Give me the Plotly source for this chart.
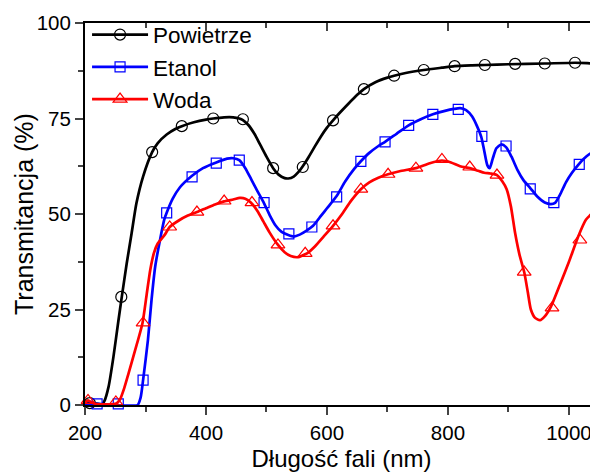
import plotly.graph_objects as go

# ---- data ----
air_x = [200, 215, 228, 232, 239, 247, 255, 261, 269, 277, 285, 296, 311, 320, 335, 350, 360, 380, 400, 412,
         430, 445, 455, 461, 470, 480, 490, 500, 511, 520, 530, 536, 545, 553, 560, 570, 580, 590, 600, 610,
         620, 635, 650, 661, 680, 700, 711, 730, 760, 790, 811, 840, 861, 900, 960, 1010, 1030, 1048]
air_y = [0.8, 0.5, 0.2, 1.0, 4.8, 12.6, 21.8, 28.5, 37.1, 44.9, 52.8, 59.8, 66.2, 68.5, 70.8, 72.3, 73.0, 74.0, 74.7, 75.0,
         75.3, 75.3, 75.0, 74.6, 73.3, 71.0, 68.0, 65.0, 62.0, 60.3, 59.4, 59.3, 59.8, 61.0, 62.5, 65.0, 67.7, 70.3, 72.6, 74.5,
         76.3, 78.8, 81.2, 82.7, 84.5, 85.7, 86.2, 86.9, 87.7, 88.3, 88.7, 88.9, 89.0, 89.2, 89.4, 89.6, 89.5, 89.3]
air_mx = [208, 260, 311, 360, 412, 461, 511, 560, 610, 661, 711, 760, 811, 861, 911, 960, 1010]
air_my = [0.5, 28.3, 66.2, 73.0, 75.0, 74.8, 62.0, 62.3, 74.5, 82.7, 86.2, 87.7, 88.7, 89.0, 89.3, 89.4, 89.6]

eth_x = [200, 220, 250, 287, 292, 296, 304, 310, 316, 324, 331, 335, 345, 357, 377, 395, 417, 435, 445,
         455, 465, 475, 485, 496, 505, 515, 525, 536, 545, 555, 565, 577, 590, 600, 616, 630, 645, 656, 670,
         685, 696, 715, 735, 755, 775, 795, 810, 820, 830, 840, 848, 855, 860, 865, 869, 874, 880, 888, 896,
         905, 915, 925, 936, 948, 960, 970, 977, 985, 995, 1005, 1015, 1025, 1035, 1048]
eth_y = [0.3, 0.3, 0.0, 0.0, 2.0, 6.5, 17.0, 27.5, 36.2, 43.2, 48.5, 50.3, 54.0, 57.0, 60.0, 62.0, 63.5, 64.5, 64.6,
         64.1, 62.0, 59.0, 56.0, 52.8, 49.8, 47.0, 45.3, 44.5, 44.1, 44.6, 45.5, 46.9, 49.5, 51.5, 54.7, 58.5, 61.8, 63.8, 66.0,
         67.8, 68.9, 71.0, 73.2, 74.8, 76.1, 77.0, 77.5, 77.7, 77.2, 75.5, 73.0, 70.2, 66.5, 62.8, 62.0, 64.5, 67.2, 68.2, 67.5,
         65.0, 61.5, 58.8, 56.8, 54.5, 53.0, 52.6, 52.9, 55.0, 58.3, 60.8, 62.8, 64.5, 65.8, 66.8]
eth_mx = [220, 255, 296, 335, 377, 417, 455, 496, 537, 575, 616, 656, 696, 735, 775, 817, 856, 896, 936, 975, 1017]
eth_my = [0.3, 0.3, 6.5, 50.3, 59.7, 63.3, 64.1, 53.0, 44.8, 46.6, 54.5, 63.8, 68.9, 73.2, 76.1, 77.4, 70.3, 67.8, 56.6, 53.0, 63.0]

wat_x = [200, 205, 212, 220, 245, 252, 258, 265, 272, 283, 295, 302, 308, 314, 320, 332, 340, 355, 370, 385,
         400, 415, 430, 445, 456, 465, 474, 485, 495, 505, 519, 530, 540, 552, 560, 567, 580, 595, 610, 625,
         640, 656, 670, 685, 701, 720, 747, 770, 790, 805, 820, 836, 850, 860, 870, 881, 890, 897, 904, 911,
         918, 926, 932, 937, 944, 952, 960, 970, 985, 1000, 1015, 1028, 1040, 1048]
wat_y = [0.5, 1.2, 0.6, 0.2, 0.2, 0.4, 1.5, 4.5, 8.3, 14.4, 21.4, 29.0, 35.5, 39.8, 42.2, 44.6, 46.6, 48.3, 49.6, 50.5,
         51.5, 52.5, 53.3, 53.8, 54.2, 54.0, 53.0, 50.8, 48.0, 45.2, 41.9, 40.0, 39.0, 38.7, 39.2, 39.7, 41.5, 44.2, 46.9, 50.0,
         53.5, 56.5, 58.3, 59.5, 60.4, 61.2, 62.0, 63.3, 64.0, 63.5, 62.5, 62.0, 61.3, 60.8, 60.6, 60.2, 58.5, 56.5, 52.0, 45.0,
         39.5, 34.8, 29.5, 25.0, 22.8, 22.2, 23.2, 25.7, 31.5, 37.5, 44.0, 48.5, 50.3, 50.5]
wat_mx = [205, 251, 296, 340, 385, 430, 476, 519, 564, 610, 656, 701, 747, 790, 836, 881, 926, 972, 1018]
wat_my = [1.2, 0.8, 21.5, 46.6, 50.5, 53.4, 53.0, 41.9, 39.7, 46.9, 56.5, 60.4, 62.0, 64.3, 62.3, 60.2, 34.8, 25.4, 43.2]

names = ["Powietrze", "Etanol", "Woda"]
x_ticks = [200, 400, 600, 800, 1000]
y_ticks = [0, 25, 50, 75, 100]

FONT = "Arial, Liberation Sans, sans-serif"
series = [
    (names[0], air_x, air_y, air_mx, air_my, "#000000", "circle-open", 11),
    (names[1], eth_x, eth_y, eth_mx, eth_my, "#0000FF", "square-open", 10),
    (names[2], wat_x, wat_y, wat_mx, wat_my, "#FF0000", "triangle-up-open", 12),
]

fig = go.Figure()
for name, x, y, mx, my, col, sym, sz in series:
    fig.add_trace(go.Scatter(x=x, y=y, mode="lines", line=dict(color=col, width=2.7, shape="spline", smoothing=0.6),
                             showlegend=False, hoverinfo="skip"))
    fig.add_trace(go.Scatter(x=mx, y=my, mode="markers",
                             marker=dict(symbol=sym, size=sz, color=col, line=dict(width=1.2, color=col)),
                             showlegend=False, cliponaxis=False))
for name, x, y, mx, my, col, sym, sz in series:
    fig.add_trace(go.Scatter(x=[None], y=[None], mode="lines+markers", name=name, xaxis="x2",
                             line=dict(color=col, width=2.7),
                             marker=dict(symbol=sym, size=sz, color=col, line=dict(width=1.2, color=col))))

# page body has an 8px margin: figure is sized/offset to compensate
fig.update_layout(
    width=590, height=464,
    margin=dict(l=77, r=0, t=15, b=67, autoexpand=False),
    paper_bgcolor="white", plot_bgcolor="white",
    font=dict(family=FONT, color="black", size=20),
    showlegend=True,
    legend=dict(x=0.004, y=1.025, xanchor="left", yanchor="top", bgcolor="rgba(0,0,0,0)",
                font=dict(size=22.5, family=FONT), itemwidth=56, tracegroupgap=0,
                borderwidth=0),
    xaxis=dict(range=[200, 1048], tickvals=x_ticks, ticks="outside", ticklen=8, tickwidth=2,
               showline=True, linewidth=2, linecolor="black", showgrid=False, zeroline=False, automargin=False,
               tickfont=dict(size=20.5, family=FONT),
               minor=dict(dtick=100, tick0=200, ticks="outside", ticklen=5, tickwidth=2, showgrid=False),
               title=dict(text="Długość fali (nm)", font=dict(size=24, family=FONT), standoff=11)),
    xaxis2=dict(range=[200, 1048], matches="x", overlaying="x", side="top", anchor="y",
                tickvals=x_ticks, ticks="inside", ticklen=8, tickwidth=2, showticklabels=False, automargin=False,
                showline=True, linewidth=2, linecolor="black", showgrid=False, zeroline=False,
                minor=dict(dtick=100, tick0=200, ticks="inside", ticklen=5, tickwidth=2, showgrid=False)),
    yaxis=dict(range=[0, 100], tickvals=y_ticks, ticks="outside", ticklen=8, tickwidth=2,
               showline=True, linewidth=2, linecolor="black", showgrid=False, zeroline=False, automargin=False,
               tickfont=dict(size=20.5, family=FONT),
               minor=dict(dtick=12.5, tick0=0, ticks="outside", ticklen=5, tickwidth=2, showgrid=False)),
    annotations=[dict(text="Transmitancja (%)", xref="paper", yref="paper", x=-61.0 / 513, y=0.5,
                      xanchor="center", yanchor="middle", textangle=-90, showarrow=False,
                      font=dict(size=25, family=FONT, color="black"))],
)

fig.write_html("out.html")
